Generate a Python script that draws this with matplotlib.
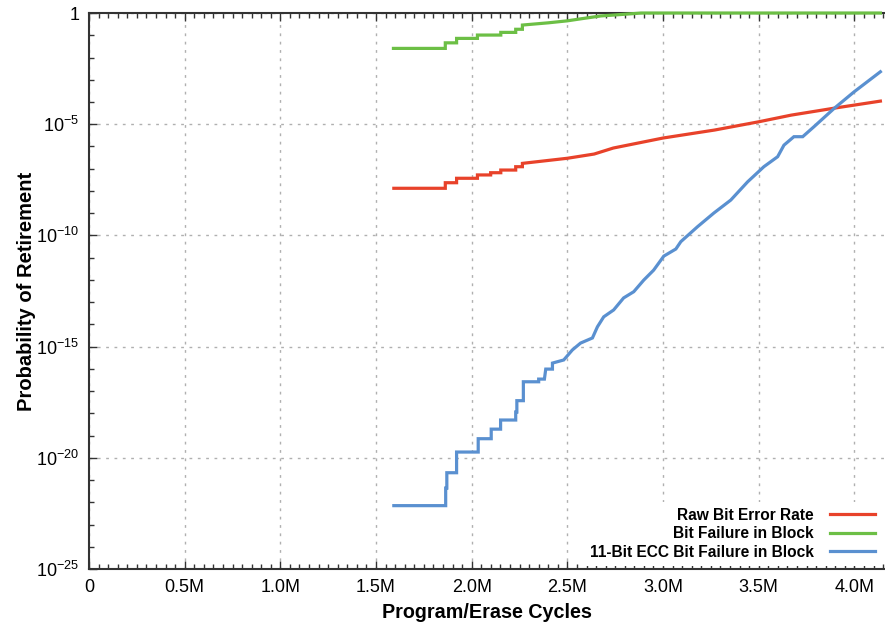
import numpy as np
import matplotlib
matplotlib.use("Agg")
import matplotlib.pyplot as plt
from matplotlib.ticker import MultipleLocator, FixedLocator, FuncFormatter

plt.rcParams["font.family"] = ["Liberation Sans", "DejaVu Sans"]
plt.rcParams["mathtext.default"] = "regular"

# =========================
# DATA (x in millions of P/E cycles, y as log10 probability)
# =========================
raw_x = [1.593, 1.862, 1.862, 1.921, 1.921, 2.030, 2.030, 2.099, 2.099, 2.152, 2.152,
         2.230, 2.230, 2.265, 2.265, 2.50, 2.64, 2.74, 3.00, 3.27, 3.50, 3.67, 3.90, 4.136]
raw_log = [-7.88, -7.88, -7.63, -7.63, -7.43, -7.43, -7.28, -7.28, -7.18, -7.18, -7.06,
           -7.06, -6.91, -6.91, -6.76, -6.53, -6.34, -6.07, -5.62, -5.26, -4.89, -4.59, -4.27, -3.96]

blk_x = [1.591, 1.862, 1.862, 1.921, 1.921, 2.030, 2.030, 2.152, 2.152, 2.230, 2.230,
         2.265, 2.265, 2.40, 2.50, 2.57, 2.675, 2.743, 2.885, 4.136]
blk_log = [-1.59, -1.59, -1.34, -1.34, -1.14, -1.14, -0.99, -0.99, -0.87, -0.87, -0.73,
           -0.73, -0.54, -0.44, -0.35, -0.26, -0.13, -0.09, 0.0, 0.0]

ecc_x = [1.593, 1.864, 1.864, 1.870, 1.870, 1.921, 1.921, 2.034, 2.034, 2.102, 2.102,
         2.151, 2.151, 2.230, 2.230, 2.236, 2.236, 2.270, 2.270, 2.350, 2.350, 2.380,
         2.387, 2.422, 2.422, 2.481, 2.526, 2.569, 2.631, 2.657, 2.690, 2.742, 2.794,
         2.847, 2.899, 2.951, 3.004, 3.067, 3.093, 3.180, 3.266, 3.354, 3.442, 3.527,
         3.599, 3.632, 3.684, 3.730, 3.789, 3.894, 3.999, 4.136]
ecc_log = [-22.15, -22.15, -21.36, -21.36, -20.67, -20.67, -19.74, -19.74, -19.14, -19.14, -18.71,
           -18.71, -18.30, -18.30, -17.94, -17.94, -17.43, -17.43, -16.58, -16.58, -16.46, -16.46,
           -16.01, -16.01, -15.74, -15.60, -15.15, -14.84, -14.61, -14.11, -13.66, -13.35, -12.81,
           -12.53, -12.01, -11.56, -10.93, -10.61, -10.28, -9.61, -8.99, -8.41, -7.59, -6.91,
           -6.46, -5.94, -5.56, -5.56, -5.11, -4.29, -3.54, -2.64]

series_labels = ["Raw Bit Error Rate", "Bit Failure in Block", "11-Bit ECC Bit Failure in Block"]
series_colors = ["#e8422a", "#6cbf45", "#5a90d0"]

x_ticks = [0, 0.5, 1.0, 1.5, 2.0, 2.5, 3.0, 3.5, 4.0]
x_tick_labels = ["0", "0.5M", "1.0M", "1.5M", "2.0M", "2.5M", "3.0M", "3.5M", "4.0M"]
y_ticks = [1e-25, 1e-20, 1e-15, 1e-10, 1e-5, 1]

# =========================
# PLOT
# =========================
fig = plt.figure(figsize=(8.85, 6.24), dpi=100)
ax = fig.add_axes([0.1006, 0.0881, 0.8983, 0.8910])

xs = [raw_x, blk_x, ecc_x]
ys = [raw_log, blk_log, ecc_log]
for x, lg, lab, col in zip(xs, ys, series_labels, series_colors):
    ax.plot(x, 10.0 ** np.array(lg), color=col, lw=2.3, label=lab,
            solid_joinstyle="miter", clip_on=False, zorder=3)

ax.set_yscale("log")
ax.set_xlim(0, 4.155)
ax.set_ylim(1e-25, 1)

ax.xaxis.set_major_locator(FixedLocator(x_ticks))
ax.set_xticklabels(x_tick_labels)
ax.xaxis.set_minor_locator(MultipleLocator(0.05))

ax.yaxis.set_major_locator(FixedLocator(y_ticks))
ax.yaxis.set_minor_locator(FixedLocator([10.0 ** e for e in range(-25, 1)]))


def yfmt(v, pos):
    e = int(round(np.log10(v)))
    if e == 0:
        return "1"
    return r"$10^{%d}$" % e


ax.yaxis.set_major_formatter(FuncFormatter(yfmt))
ax.yaxis.set_minor_formatter(FuncFormatter(lambda v, p: ""))

ax.tick_params(which="both", direction="in", top=True, right=False, color="#333333")
ax.tick_params(which="major", length=6, width=1.0, labelsize=13, pad=7)
ax.tick_params(which="minor", length=3.5, width=1.0)

for side in ["left", "bottom", "top"]:
    ax.spines[side].set_color("#333333")
    ax.spines[side].set_linewidth(1.5)
ax.spines["right"].set_visible(False)

ax.grid(True, which="major", color="#b0b0b0", linestyle=(0, (2, 4)), linewidth=1.0)
ax.set_axisbelow(True)

ax.set_xlabel("Program/Erase Cycles", fontsize=14.2, fontweight="bold", labelpad=5)
ax.set_ylabel("Probability of Retirement", fontsize=14.5, fontweight="bold", labelpad=0)

leg = ax.legend(loc="lower right", markerfirst=False, frameon=True, framealpha=1,
                facecolor="white", edgecolor="none", fancybox=False,
                prop={"weight": "bold", "size": 11.2}, handlelength=2.9,
                handletextpad=1.0, labelspacing=0.22, borderaxespad=0.2,
                borderpad=0.4)
for t in leg.get_texts():
    t.set_ha("right")
leg._legend_box.align = "right"

fig.savefig("out.png", dpi=100)
